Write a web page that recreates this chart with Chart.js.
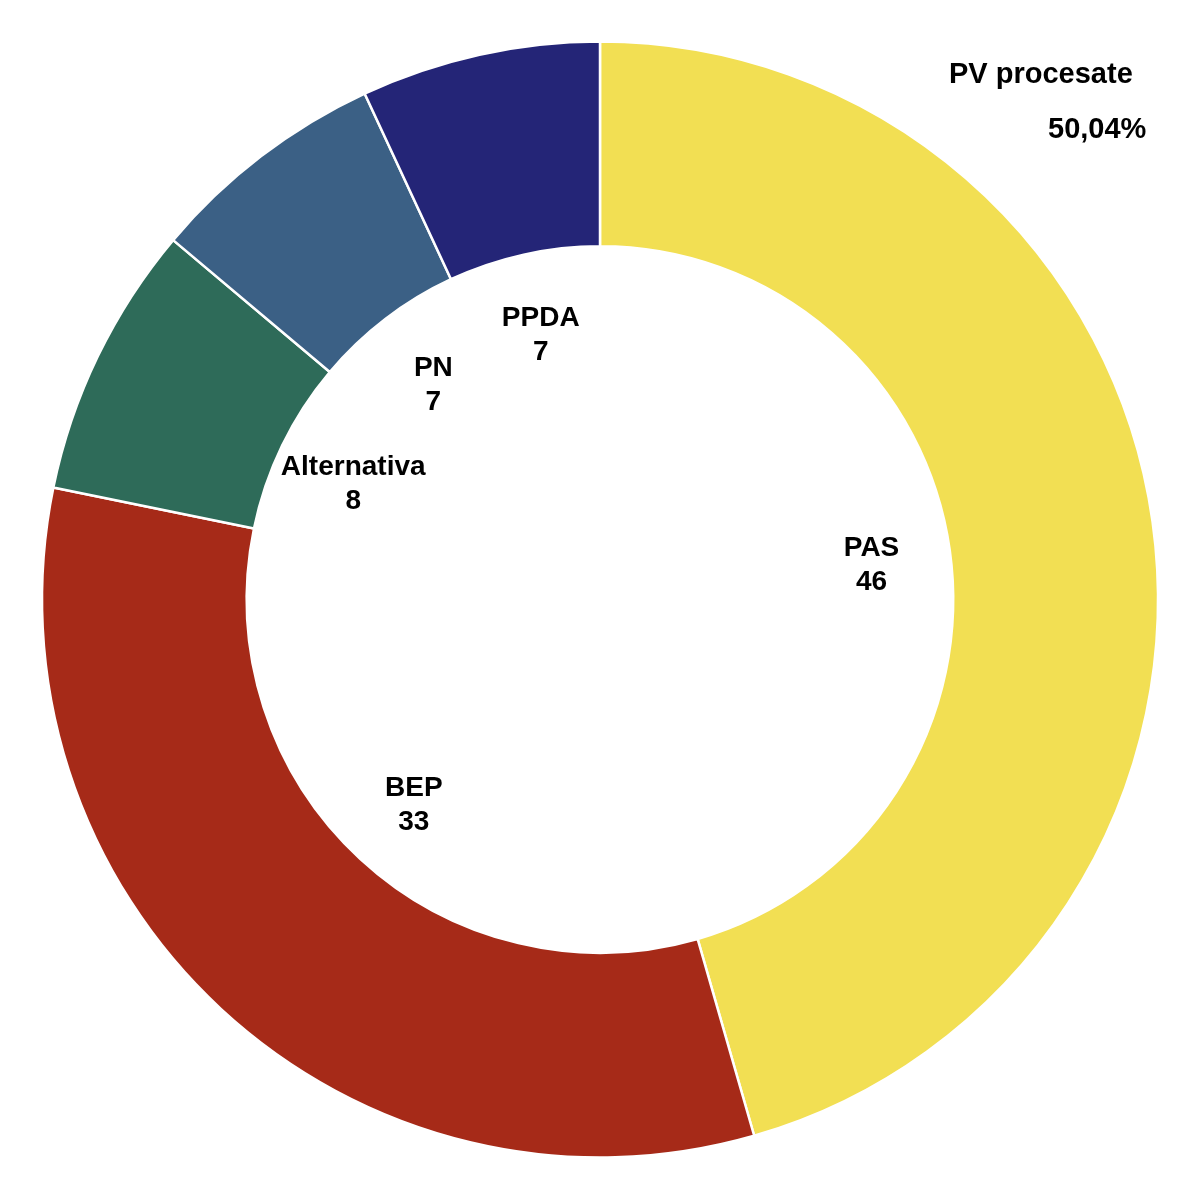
<!DOCTYPE html>
<html>
<head>
<meta charset="utf-8">
<script src="https://cdn.jsdelivr.net/npm/chart.js@4"></script>
<style>
  html, body { margin: 0; padding: 0; background: #fff; }
  #wrap { position: relative; width: 1200px; height: 1199px; }
  .t { position: absolute; font-family: "Liberation Sans", Arial, Helvetica, sans-serif; font-weight: bold; font-size: 29px; color: #000; white-space: nowrap; line-height: 1; }
</style>
</head>
<body>
<div id="wrap">
  <canvas id="seatChart" width="1200" height="1199"></canvas>
  <div class="t" style="left:949px; top:59px;">PV procesate</div>
  <div class="t" style="left:1048px; top:114px;">50,04%</div>
</div>
<script>
const parties = ["PAS", "BEP", "Alternativa", "PN", "PPDA"];
const seats = [46, 33, 8, 7, 7];
const partyColors = ["#F2DF53", "#A62A18", "#2E6B59", "#3B6085", "#242577"];

// etichete in interiorul gaurii, pe mijlocul fiecarui segment
const innerLabels = {
    id: "innerLabels",
    afterDatasetsDraw(chart) {
        const ctx = chart.ctx;
        const meta = chart.getDatasetMeta(0);
        ctx.save();
        ctx.font = "bold 28px 'Liberation Sans', Arial, sans-serif";
        ctx.fillStyle = "#000";
        ctx.textAlign = "center";
        ctx.textBaseline = "middle";
        meta.data.forEach((arc, i) => {
            const p = arc.getProps(["x", "y", "startAngle", "endAngle", "innerRadius"], true);
            const mid = (p.startAngle + p.endAngle) / 2;
            const r = p.innerRadius - 79;
            const x = p.x + Math.cos(mid) * r;
            const y = p.y + Math.sin(mid) * r + 4;
            ctx.fillText(parties[i], x, y - 17);
            ctx.fillText(String(seats[i]), x, y + 17);
        });
        ctx.restore();
    }
};

new Chart(document.getElementById("seatChart").getContext("2d"), {
    type: "doughnut",
    data: {
        labels: parties,
        datasets: [{
            data: seats,
            backgroundColor: partyColors,
            borderColor: "#ffffff",
            borderWidth: 2.5,
            hoverOffset: 0
        }]
    },
    options: {
        responsive: false,
        animation: false,
        radius: 558,
        cutout: "63.3%",
        plugins: {
            legend: { display: false },
            tooltip: { enabled: false }
        }
    },
    plugins: [innerLabels]
});
</script>
</body>
</html>
